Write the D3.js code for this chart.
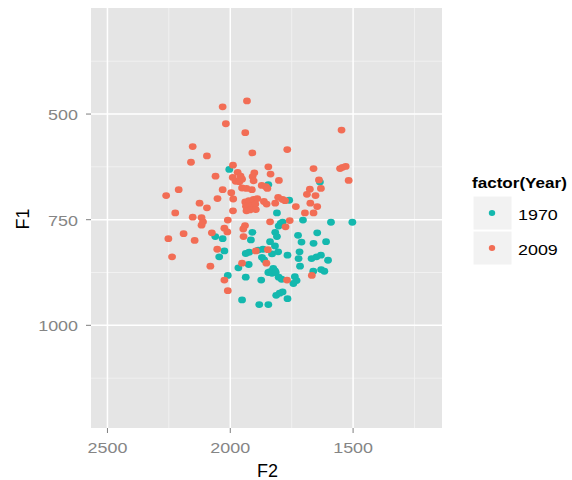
<!DOCTYPE html>
<meta charset="utf-8">

<script src="https://d3js.org/d3.v7.min.js"></script>

<style>
  body { margin: 0; background: #fff; }
  text { font-family: Arial, "Liberation Sans", sans-serif; }
</style>

<div id="my_dataviz"></div>

<script>

  // F2 / F1 values, one pair of arrays per year
  var f2_1970 = [2004,1845,1635,1760,1810,1704,1590,1503,1795,1787,
                 1803,2061,2031,1910,1916,1817,1810,1724,1646,1710,
                 1661,1610,1838,1818,1867,1886,1937,1923,1830,1767,
                 1718,1722,1669,1649,1631,1602,2024,2045,1871,1862,
                 1967,1925,1716,1838,1825,1818,1845,1830,1815,1662,
                 1630,1617,2010,1937,1874,1803,1791,1737,1730,1743,
                 1813,1799,1787,1767,1952,1882,1845,1805];
  var f1_1970 = [631,667,661,704,734,751,756,756,759,756,
                 765,790,795,780,798,780,790,787,781,803,
                 806,802,802,812,820,822,830,827,831,834,
                 826,842,842,838,834,846,824,838,839,845,
                 864,856,860,873,865,871,875,877,875,872,
                 868,872,882,886,893,886,891,885,894,901,
                 929,924,921,937,940,951,951,826];

  var f2_2009 = [2031,1932,2018,1939,1547,2153,2095,2160,1910,1768,
                 1989,2060,1990,1970,1958,1978,1952,1963,1902,1909,
                 1905,1845,1836,1802,1661,1553,1543,1530,1518,1639,
                 1631,1676,1688,1653,2210,2261,2031,1996,1988,2052,
                 1952,1934,1912,1872,1855,1849,1939,1924,1905,1890,
                 1936,1917,1898,1920,1934,1896,1863,1852,1817,1805,
                 1787,1777,1733,1674,1646,1661,1696,2125,2095,2224,
                 2153,2117,2111,2117,1989,2010,2024,2012,1940,1947,
                 1946,1838,1758,1775,2252,2190,2145,2075,2237,2053,
                 2081,1896,1847,1853,1952,2024,2010,1769,1668];
  var f1_2009 = [483,469,523,544,538,577,599,614,592,584,
                 621,647,650,638,647,659,654,660,639,648,
                 658,625,642,657,629,629,626,624,657,656,
                 676,678,690,693,679,693,679,686,701,700,
                 675,676,679,669,672,676,708,705,702,700,
                 718,718,713,727,729,726,707,713,711,697,
                 702,705,719,711,719,734,734,711,722,734,
                 744,745,755,763,729,751,770,779,764,772,
                 790,755,752,767,795,783,799,781,838,820,
                 860,824,821,853,853,893,918,893,882];

  var years = ["1970", "2009"];
  var colors = ["#14B8AE", "#F26D55"];

  // ticks and grid breaks
  var xTicks = [2500, 2000, 1500];
  var xMinor = [2250, 1750, 1250];
  var yTicks = [500, 750, 1000];
  var yMinor = [375, 625, 875, 1125];

  // both axes are reversed
  var xDomain = [2567, 1138];
  var yDomain = [249, 1243];

  var width = 572, height = 480;
  var panel = {left: 91, right: 442, top: 8, bottom: 428};
  var stretch = "scale(1.28,1)";   // the reference text is a bit wide

  var svg = d3.select("#my_dataviz")
    .append("svg")
      .attr("width", width)
      .attr("height", height);

  var x = d3.scaleLinear().domain(xDomain).range([panel.left, panel.right]);
  var y = d3.scaleLinear().domain(yDomain).range([panel.top, panel.bottom]);

  // grey panel
  svg.append("rect")
    .attr("x", panel.left).attr("y", panel.top)
    .attr("width", panel.right - panel.left)
    .attr("height", panel.bottom - panel.top)
    .style("fill", "#E5E5E5");

  // minor grid
  svg.selectAll("xminor").data(xMinor).enter().append("line")
    .attr("x1", d => x(d)).attr("x2", d => x(d))
    .attr("y1", panel.top).attr("y2", panel.bottom)
    .style("stroke", "#F2F2F2").style("stroke-width", 0.9);
  svg.selectAll("yminor").data(yMinor).enter().append("line")
    .attr("y1", d => y(d)).attr("y2", d => y(d))
    .attr("x1", panel.left).attr("x2", panel.right)
    .style("stroke", "#F2F2F2").style("stroke-width", 0.9);

  // major grid
  svg.selectAll("xmajor").data(xTicks).enter().append("line")
    .attr("x1", d => x(d)).attr("x2", d => x(d))
    .attr("y1", panel.top).attr("y2", panel.bottom)
    .style("stroke", "#FFFFFF").style("stroke-width", 1.5);
  svg.selectAll("ymajor").data(yTicks).enter().append("line")
    .attr("y1", d => y(d)).attr("y2", d => y(d))
    .attr("x1", panel.left).attr("x2", panel.right)
    .style("stroke", "#FFFFFF").style("stroke-width", 1.5);

  // tick marks and labels
  svg.selectAll("xtick").data(xTicks).enter().append("line")
    .attr("x1", d => x(d)).attr("x2", d => x(d))
    .attr("y1", panel.bottom).attr("y2", panel.bottom + 5)
    .style("stroke", "#7F7F7F");
  svg.selectAll("xlab").data(xTicks).enter().append("text")
    .attr("transform", d => "translate(" + x(d) + "," + 453 + ") " + stretch)
    .style("text-anchor", "middle")
    .style("font-size", "14px")
    .style("fill", "#858585")
    .text(d => d);

  svg.selectAll("ytick").data(yTicks).enter().append("line")
    .attr("y1", d => y(d)).attr("y2", d => y(d))
    .attr("x1", panel.left - 5).attr("x2", panel.left)
    .style("stroke", "#7F7F7F");
  svg.selectAll("ylab").data(yTicks).enter().append("text")
    .attr("transform", d => "translate(" + 78 + "," + (y(d) + 6) + ") " + stretch)
    .style("text-anchor", "end")
    .style("font-size", "14px")
    .style("fill", "#858585")
    .text(d => d);

  // axis titles
  svg.append("text")
    .attr("x", (panel.left + panel.right) / 2 + 1)
    .attr("y", 477)
    .style("text-anchor", "middle")
    .style("font-size", "18px")
    .text("F2");
  svg.append("text")
    .attr("transform", "translate(29," + ((panel.top + panel.bottom) / 2 + 1) + ") rotate(-90)")
    .style("text-anchor", "middle")
    .style("font-size", "18px")
    .text("F1");

  // points
  var pts1970 = f2_1970.map((v, i) => ({f2: v, f1: f1_1970[i], year: 0}));
  var pts2009 = f2_2009.map((v, i) => ({f2: v, f1: f1_2009[i], year: 1}));

  svg.selectAll("mypoints")
    .data(pts1970.concat(pts2009))
    .enter()
    .append("ellipse")
      .attr("cx", d => x(d.f2))
      .attr("cy", d => y(d.f1))
      .attr("rx", 3.9)
      .attr("ry", 3.4)
      .style("fill", d => colors[d.year]);

  // legend
  svg.append("text")
    .attr("transform", "translate(472,188) scale(1.22,1)")
    .style("font-size", "14px")
    .style("font-weight", "bold")
    .text("factor(Year)");

  var leg = svg.selectAll("legkeys")
    .data(years)
    .enter()
    .append("g")
      .attr("transform", (d, i) => "translate(473," + (196 + i * 35) + ")");
  leg.append("rect")
    .attr("width", 39).attr("height", 34)
    .style("fill", "#F2F2F2")
    .style("stroke", "#FFFFFF");
  leg.append("ellipse")
    .attr("cx", 19).attr("cy", 17)
    .attr("rx", 3.2).attr("ry", 3)
    .style("fill", (d, i) => colors[i]);
  leg.append("text")
    .attr("transform", "translate(45,24) " + stretch)
    .style("font-size", "14px")
    .text(d => d);

</script>
